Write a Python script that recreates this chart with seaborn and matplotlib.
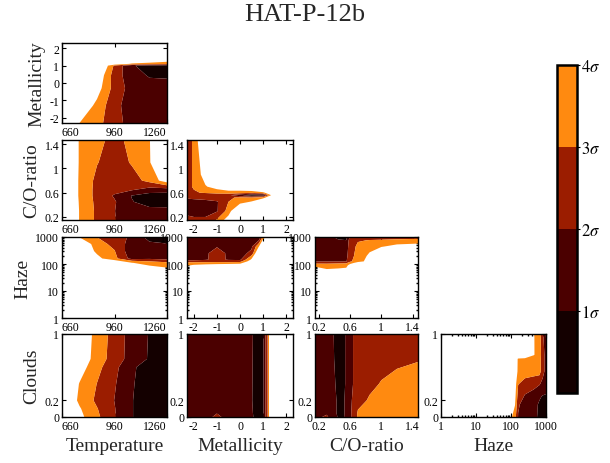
"""
Corner plot of sigma-contours for HAT-P-12b retrieval grid.
"""
import numpy as np
import matplotlib
matplotlib.use("Agg")
import matplotlib.pyplot as plt
from matplotlib.ticker import FixedLocator, LogLocator, NullFormatter
import seaborn as sns

# ── grid nodes (model grid used for contouring) ─────────────────────
TEMP_NODES = [660, 760, 860, 960, 1060, 1160, 1260]
MET_NODES = [-2.5, -2.0, -1.5, -1.0, -0.5, 0.0, 0.5, 1.0, 1.5, 2.5]

# ── sigma values per panel: rows = y nodes (ascending), cols = x nodes ──
# Metallicity vs Temperature
MT_Y = [-2.4, -1.3, -0.3, 0.45, 1.0, 1.1, 1.25, 2.4]
MT_Z = [
    [5, 3.9, 3.3, 2.4, 1.6, 1.4, 1.3],
    [6, 5, 3.7, 2.3, 1.5, 1.3, 1.2],
    [6, 5.5, 4.5, 2.6, 1.6, 1.4, 1.4],
    [6, 6, 5, 2.5, 1.4, 0.9, 0.85],
    [7, 6.5, 6, 2.8, 1.1, 0.6, 0.5],
    [7, 7, 7, 5, 3.8, 3.5, 3.2],
    [7, 7, 7, 6, 5, 4.6, 4.2],
    [8, 8, 8, 8, 8, 8, 8],
]

# C/O vs Temperature
CT_Y = [0.1, 0.3, 0.45, 0.55, 0.65, 0.8, 1.1, 1.5]
CT_Z = [
    [6, 3.95, 2.8, 2.05, 1.5, 1.4, 1.5],
    [6, 3.95, 2.8, 2.02, 1.4, 1.3, 1.2],
    [6, 3.9, 2.75, 2.1, 1.05, 0.6, 0.7],
    [6, 3.85, 2.7, 1.9, 0.95, 0.5, 0.5],
    [6, 3.85, 2.7, 2.3, 2.1, 1.6, 1.5],
    [6, 3.85, 2.75, 2.4, 2.6, 3.3, 4.6],
    [6, 3.9, 3.05, 2.5, 3.1, 3.9, 6],
    [6, 3.9, 3.3, 2.7, 3.3, 3.95, 6],
]

# C/O vs Metallicity
CM_Y = [0.1, 0.3, 0.45, 0.52, 0.56, 0.6, 0.7, 0.9, 1.5]
CM_Z = [
    [2.5, 2.4, 2.3, 3.5, 5, 7, 7, 7, 7, 7],
    [1.8, 1.6, 1.7, 1.9, 3.4, 6, 7, 7, 7, 7],
    [1.5, 1.5, 1.6, 1.9, 3.0, 3.5, 4.1, 6, 7, 7],
    [2.1, 2.3, 2.5, 2.6, 2.9, 3.1, 3.0, 3.5, 6, 7],
    [2.0, 2.2, 2.3, 2.4, 2.2, 1.2, 0.3, 0.5, 5.5, 7],
    [2.5, 2.9, 3.1, 3.3, 3.5, 3.5, 3.2, 3.8, 5, 6],
    [2.5, 3.1, 3.9, 4.5, 5, 5, 6, 6, 6, 6],
    [2.5, 3.1, 4.6, 6, 6, 6, 6, 6, 6, 6],
    [2.5, 3.1, 6, 6, 6, 6, 6, 6, 6, 6],
]

# Haze vs Temperature
HT_Y = [1, 60, 110, 160, 300, 550, 1000, 1200]
HT_Z = [
    [8, 8, 8, 8, 8, 8, 8],
    [8, 8, 8, 7, 6, 4.6, 4.3],
    [8, 7, 6, 5, 4.05, 3.5, 3.2],
    [7, 6, 4.3, 3.3, 1.6, 1.8, 1.6],
    [7, 5.5, 3.7, 3.05, 1.3, 1.3, 1.3],
    [6, 4.8, 3.6, 2.6, 1.6, 1.15, 1.02],
    [5, 3.95, 2.98, 2.5, 1.8, 0.6, 0.6],
    [5, 3.95, 2.98, 2.5, 1.8, 0.6, 0.6],
]

# Haze vs Metallicity
HM_X = [-2.5, -2.0, -1.5, -1.0, -0.5, 0.0, 0.5, 0.8, 1.0, 1.5, 2.5]
HM_Y = [1, 70, 105, 125, 145, 250, 450, 700, 1000, 1200]
HM_Z = [
    [8, 8, 8, 8, 8, 8, 8, 8, 8, 8, 8],
    [4.3, 4.8, 5, 5.5, 6, 6.5, 7, 7, 7, 7, 7],
    [3.5, 3.6, 3.7, 3.7, 3.7, 3.8, 6, 7, 7, 7, 7],
    [2.4, 2.5, 2.5, 2.6, 2.5, 2.6, 4.8, 6, 7, 7, 7],
    [1.7, 1.7, 1.9, 2.3, 1.9, 1.8, 4.2, 5.5, 7, 7, 7],
    [1.6, 1.6, 1.8, 2.5, 1.8, 1.7, 2.2, 5.5, 6, 7, 7],
    [1.5, 1.5, 1.6, 1.9, 1.6, 1.5, 1.8, 3.7, 6, 7, 7],
    [1.5, 1.5, 1.5, 1.6, 1.5, 1.6, 1.3, 2.05, 4.6, 7, 7],
    [1.5, 1.5, 1.5, 1.6, 1.5, 1.8, 0.9, 0.8, 3.3, 6, 7],
    [1.5, 1.5, 1.5, 1.6, 1.5, 1.8, 0.9, 0.8, 3.3, 6, 7],
]

# Haze vs C/O
HC_X = [0.1, 0.3, 0.45, 0.55, 0.6, 0.7, 0.85, 1.0, 1.2, 1.5]
HC_Y = [1, 60, 90, 110, 125, 200, 450, 750, 1000, 1200]
HC_Z = [
    [8, 8, 8, 8, 8, 8, 8, 8, 8, 8],
    [5, 4.1, 4.2, 4.3, 6, 7, 7, 7, 7, 7],
    [3.8, 3.5, 3.5, 3.6, 4.5, 6, 7, 7, 7, 7],
    [2.6, 2.7, 2.8, 2.8, 3.5, 4.5, 6, 7, 7, 7],
    [1.9, 1.9, 1.9, 1.9, 2.8, 3.6, 4.4, 6, 7, 7],
    [1.7, 1.7, 1.6, 1.7, 2.6, 3.4, 4.2, 5, 6, 6],
    [1.6, 1.6, 1.5, 1.5, 2.5, 3.2, 3.5, 3.9, 4.3, 4.5],
    [1.5, 1.5, 1.1, 1.02, 2.6, 2.9, 3.05, 3.1, 3.2, 3.3],
    [1.5, 1.4, 0.7, 0.7, 2.2, 2.4, 2.5, 2.5, 2.5, 2.6],
    [1.5, 1.4, 0.7, 0.7, 2.2, 2.4, 2.5, 2.5, 2.5, 2.6],
]

# Clouds vs Temperature
KT_Y = [-0.05, 0.1, 0.2, 0.4, 0.6, 0.7, 1.05]
KT_Z = [
    [6, 4.4, 3.3, 2.1, 1.02, 0.7, 0.5],
    [5.5, 4.1, 3.05, 2.05, 1.02, 0.7, 0.5],
    [5.2, 3.8, 2.8, 1.98, 1.02, 0.7, 0.5],
    [5.5, 3.95, 2.98, 2.1, 1.05, 0.7, 0.5],
    [6, 4.5, 3.3, 2.3, 1.1, 0.7, 0.5],
    [6, 4.7, 3.6, 2.5, 1.6, 0.9, 0.5],
    [6, 4.8, 3.7, 2.6, 1.6, 0.95, 0.5],
]

# Clouds vs Metallicity
KM_X = [-2.5, -2.0, -1.5, -1.0, -0.5, 0.0, 0.5, 0.8, 1.0, 1.2, 1.5, 2.5]
KM_Y = [-0.05, 0.05, 0.2, 1.05]
KM_Z = [
    [1.8, 1.8, 1.9, 2.6, 1.9, 1.8, 1.2, 0.6, 0.8, 3.0, 7, 8],
    [1.7, 1.7, 1.8, 1.95, 1.8, 1.7, 1.1, 0.6, 0.8, 3.0, 7, 8],
    [1.6, 1.6, 1.6, 1.6, 1.6, 1.5, 1.05, 0.6, 0.8, 3.0, 7, 8],
    [1.6, 1.6, 1.6, 1.6, 1.6, 1.5, 1.1, 0.6, 0.8, 3.0, 7, 8],
]

# Clouds vs C/O
KC_X = [0.1, 0.3, 0.4, 0.5, 0.6, 0.7, 0.85, 1.0, 1.2, 1.5]
KC_Y = [-0.05, 0.05, 0.2, 0.4, 0.7, 1.05]
KC_Z = [
    [1.8, 3.0, 1.2, 0.8, 1.8, 3.2, 3.5, 3.7, 3.8, 3.9],
    [1.7, 1.7, 1.1, 0.7, 1.8, 3.1, 3.4, 3.6, 3.7, 3.8],
    [1.6, 1.6, 1.1, 0.7, 1.8, 2.7, 3.1, 3.4, 3.6, 3.8],
    [1.5, 1.5, 1.05, 0.6, 1.7, 2.5, 2.8, 3.05, 3.3, 3.5],
    [1.5, 1.4, 0.98, 0.6, 1.7, 2.5, 2.6, 2.7, 2.8, 2.95],
    [1.5, 1.4, 0.95, 0.6, 1.7, 2.5, 2.6, 2.6, 2.6, 2.6],
]

# Clouds vs Haze
KH_X = [1, 80, 130, 160, 250, 450, 650, 800, 1000]
KH_Y = [-0.05, 0.15, 0.25, 0.4, 0.55, 0.7, 0.75, 1.05]
KH_Z = [
    [8, 4.5, 3.2, 1.9, 1.6, 1.2, 0.8, 0.6, 0.5],
    [8, 5.5, 4.05, 2.1, 1.6, 1.2, 0.9, 0.7, 0.6],
    [8, 6, 4.3, 2.5, 1.9, 1.5, 1.1, 0.95, 0.9],
    [8, 6.5, 4.5, 3.05, 2.6, 2.4, 2.1, 1.7, 1.5],
    [8, 7, 5, 3.7, 3.5, 3.4, 3.4, 2.4, 1.6],
    [8, 7, 5, 3.8, 3.7, 3.6, 3.4, 2.4, 1.6],
    [8, 8, 7, 6, 5.5, 4.05, 3.5, 2.4, 1.6],
    [8, 8, 7, 6, 5.5, 4.05, 3.4, 2.2, 0.7],
]

SIGMA_LEVELS = [0, 1, 2, 3, 4]
SIGMA_LABELS = [r"$1\sigma$", r"$2\sigma$", r"$3\sigma$", r"$4\sigma$"]
SIGMA_COLORS = ["#140000", "#4b0000", "#9b1d00", "#ff8a10"]

# ── axis definitions ────────────────────────────────────────────────
AXES = {
    "Temperature": dict(lim=(660, 1260), ticks=[660, 960, 1260],
                        labels=["660", "960", "1260"], log=False),
    "Metallicity": dict(lim=(-2.3, 2.3), ticks=[-2, -1, 0, 1, 2],
                        labels=["-2", "-1", "0", "1", "2"], log=False),
    "C/O-ratio": dict(lim=(0.15, 1.47), ticks=[0.2, 0.6, 1.0, 1.4],
                      labels=["0.2", "0.6", "1", "1.4"], log=False),
    "Haze": dict(lim=(1, 1000), ticks=[1, 10, 100, 1000],
                 labels=["1", "10", "100", "1000"], log=True),
    "Clouds": dict(lim=(0, 1), ticks=[0, 0.2, 1],
                   labels=["0", "0.2", "1"], log=False),
}

# (row, col): x param, y param, x nodes, y nodes, z
PANELS = [
    (0, 0, "Temperature", "Metallicity", TEMP_NODES, MT_Y, MT_Z),
    (1, 0, "Temperature", "C/O-ratio", TEMP_NODES, CT_Y, CT_Z),
    (1, 1, "Metallicity", "C/O-ratio", MET_NODES, CM_Y, CM_Z),
    (2, 0, "Temperature", "Haze", TEMP_NODES, HT_Y, HT_Z),
    (2, 1, "Metallicity", "Haze", HM_X, HM_Y, HM_Z),
    (2, 2, "C/O-ratio", "Haze", HC_X, HC_Y, HC_Z),
    (3, 0, "Temperature", "Clouds", TEMP_NODES, KT_Y, KT_Z),
    (3, 1, "Metallicity", "Clouds", KM_X, KM_Y, KM_Z),
    (3, 2, "C/O-ratio", "Clouds", KC_X, KC_Y, KC_Z),
    (3, 3, "Haze", "Clouds", KH_X, KH_Y, KH_Z),
]

sns.set_theme(style="ticks", rc={
    "xtick.direction": "in", "ytick.direction": "in",
    "xtick.top": True, "ytick.right": True,
    "xtick.major.size": 3, "ytick.major.size": 3,
    "xtick.minor.size": 1.6, "ytick.minor.size": 1.6,
    "xtick.major.width": 0.8, "ytick.major.width": 0.8,
    "axes.edgecolor": "black", "axes.linewidth": 1.0,
    "xtick.color": "black", "ytick.color": "black",
})
plt.rcParams["font.family"] = ["Liberation Serif", "DejaVu Serif"]
plt.rcParams["mathtext.fontset"] = "stix"

W, H = 610, 464
COL_PX = [(62, 105), (187, 106), (315, 103), (441, 105)]
ROW_PX = [(44, 124), (141, 221), (238, 319), (335, 418)]

fig = plt.figure(figsize=(W / 100, H / 100), dpi=100)

cs = None
for row, col, xname, yname, xn, yn, z in PANELS:
    x0, w = COL_PX[col]
    top, bot = ROW_PX[row]
    ax = fig.add_axes([x0 / W, 1 - bot / H, w / W, (bot - top) / H])
    if AXES[xname]["log"]:
        ax.set_xscale("log")
    if AXES[yname]["log"]:
        ax.set_yscale("log")
    cs = ax.contourf(xn, yn, np.array(z), levels=SIGMA_LEVELS,
                     colors=SIGMA_COLORS, antialiased=True)
    ax.set_xlim(*AXES[xname]["lim"])
    ax.set_ylim(*AXES[yname]["lim"])
    for axis, name in [(ax.xaxis, xname), (ax.yaxis, yname)]:
        spec = AXES[name]
        axis.set_major_locator(FixedLocator(spec["ticks"]))
        axis.set_ticklabels(spec["labels"])
        if spec["log"]:
            axis.set_minor_locator(LogLocator(base=10, subs=np.arange(2, 10)))
            axis.set_minor_formatter(NullFormatter())
    ax.tick_params(which="both", direction="in", top=True, right=True,
                   labelsize=8.5, pad=2)
    # temperature edge labels sit inside the frame, as in the original
    if xname == "Temperature":
        tl = ax.get_xticklabels()
        tl[0].set_horizontalalignment("left")
        tl[-1].set_horizontalalignment("right")
    if col == 0:
        ax.set_ylabel(yname, fontsize=14, labelpad=3)
    if row == 3:
        ax.set_xlabel(xname, fontsize=14, labelpad=4)

# colorbar
cax = fig.add_axes([557 / W, 1 - 394 / H, 20 / W, 328 / H])
cb = fig.colorbar(cs, cax=cax, ticks=[1, 2, 3, 4])
cb.ax.set_yticklabels(SIGMA_LABELS)
cb.ax.tick_params(direction="out", length=2, labelsize=12, pad=1)
cb.outline.set_linewidth(1.8)
cb.outline.set_edgecolor("black")

fig.text(0.5, 1 - 15 / H, "HAT-P-12b", ha="center", va="center", fontsize=19)

fig.savefig("out.png", dpi=100, facecolor="white")
